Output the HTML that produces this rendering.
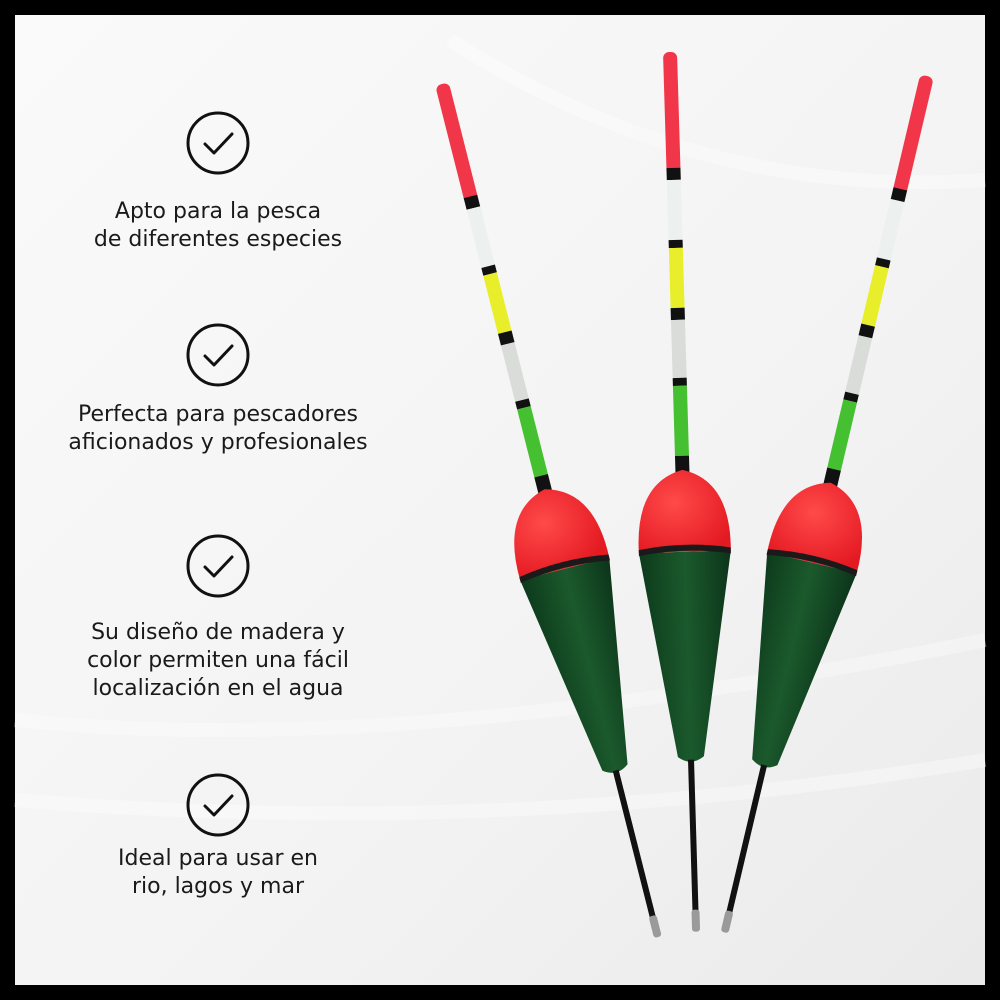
<!DOCTYPE html>
<html><head><meta charset="utf-8"><style>
html,body{margin:0;padding:0;width:1000px;height:1000px;overflow:hidden;background:#000}
svg{display:block}
</style></head><body>
<svg width="1000" height="1000" viewBox="0 0 1000 1000" xmlns="http://www.w3.org/2000/svg">
<defs>
<linearGradient id="bg" x1="0" y1="0" x2="1" y2="1">
<stop offset="0" stop-color="#fafafa"/><stop offset="0.6" stop-color="#f3f3f3"/><stop offset="1" stop-color="#eaeaea"/>
</linearGradient>
<linearGradient id="grn" x1="0" y1="0" x2="1" y2="0">
<stop offset="0" stop-color="#0d3a1c"/><stop offset="0.5" stop-color="#1b5a2c"/><stop offset="1" stop-color="#0c341a"/>
</linearGradient>
<radialGradient id="red" cx="0.4" cy="0.4" r="0.7">
<stop offset="0" stop-color="#ff4a4a"/><stop offset="1" stop-color="#e41a22"/>
</radialGradient>
<g id="float">
<rect x="-7" y="0" width="14" height="122" rx="6" fill="#f2364a"/>
<rect x="-7" y="116" width="14" height="12" fill="#111"/>
<rect x="-7" y="128" width="14" height="60" fill="#ecf0ee"/>
<rect x="-7" y="188" width="14" height="8" fill="#111"/>
<rect x="-7" y="196" width="14" height="60" fill="#e8ef2a"/>
<rect x="-7" y="256" width="14" height="12" fill="#111"/>
<rect x="-7" y="268" width="14" height="58" fill="#d9dcd9"/>
<rect x="-7" y="326" width="14" height="8" fill="#111"/>
<rect x="-7" y="334" width="14" height="70" fill="#45c030"/>
<rect x="-7" y="404" width="14" height="22" fill="#111"/>
<path d="M-46 500 L-13 705 Q0 715 13 705 L46 500 Z" fill="url(#grn)"/>
<path d="M-46 500 Q-48 430 0 418 Q48 430 46 500 Z" fill="url(#red)"/>
<path d="M-46 497 Q0 489 46 497 L46 503 Q0 495 -46 503 Z" fill="#1a1a1a"/>
<rect x="-3" y="708" width="6" height="152" fill="#111"/>
<rect x="-4" y="858" width="8" height="22" rx="3" fill="#9a9a9a"/>
</g>
</defs>
<rect x="15" y="15" width="970" height="970" fill="url(#bg)"/>
<g stroke="#fff" stroke-width="14" fill="none" opacity="0.35">
<path d="M15 720 Q400 760 985 640"/>
<path d="M15 800 Q500 840 985 760"/>
<path d="M450 40 Q700 200 985 180"/>
</g>
<g fill="none" stroke="#111" stroke-width="3">
<circle cx="218" cy="143" r="30"/><circle cx="218" cy="355" r="30"/>
<circle cx="218" cy="566" r="30"/><circle cx="218" cy="805" r="30"/>
</g>
<g fill="none" stroke="#111" stroke-width="3" stroke-linecap="round" stroke-linejoin="round">
<path d="M205 144 L214 153 L232 134"/><path d="M205 356 L214 365 L232 346"/>
<path d="M205 567 L214 576 L232 557"/><path d="M205 806 L214 815 L232 796"/>
</g>
<g font-family="DejaVu Sans, sans-serif" font-size="22" fill="#1a1a1a" text-anchor="middle">
<text x="218" y="218">Apto para la pesca</text>
<text x="218" y="246">de diferentes especies</text>
<text x="218" y="421">Perfecta para pescadores</text>
<text x="218" y="449">aficionados y profesionales</text>
<text x="218" y="639">Su diseño de madera y</text>
<text x="218" y="667">color permiten una fácil</text>
<text x="218" y="695">localización en el agua</text>
<text x="218" y="865">Ideal para usar en</text>
<text x="218" y="893">rio, lagos y mar</text>
</g>
<use href="#float" transform="translate(442,84) rotate(-14.2)"/>
<use href="#float" transform="translate(670,52) rotate(-1.7)"/>
<use href="#float" transform="translate(927,76) rotate(13.3)"/>
</svg>
</body></html>
